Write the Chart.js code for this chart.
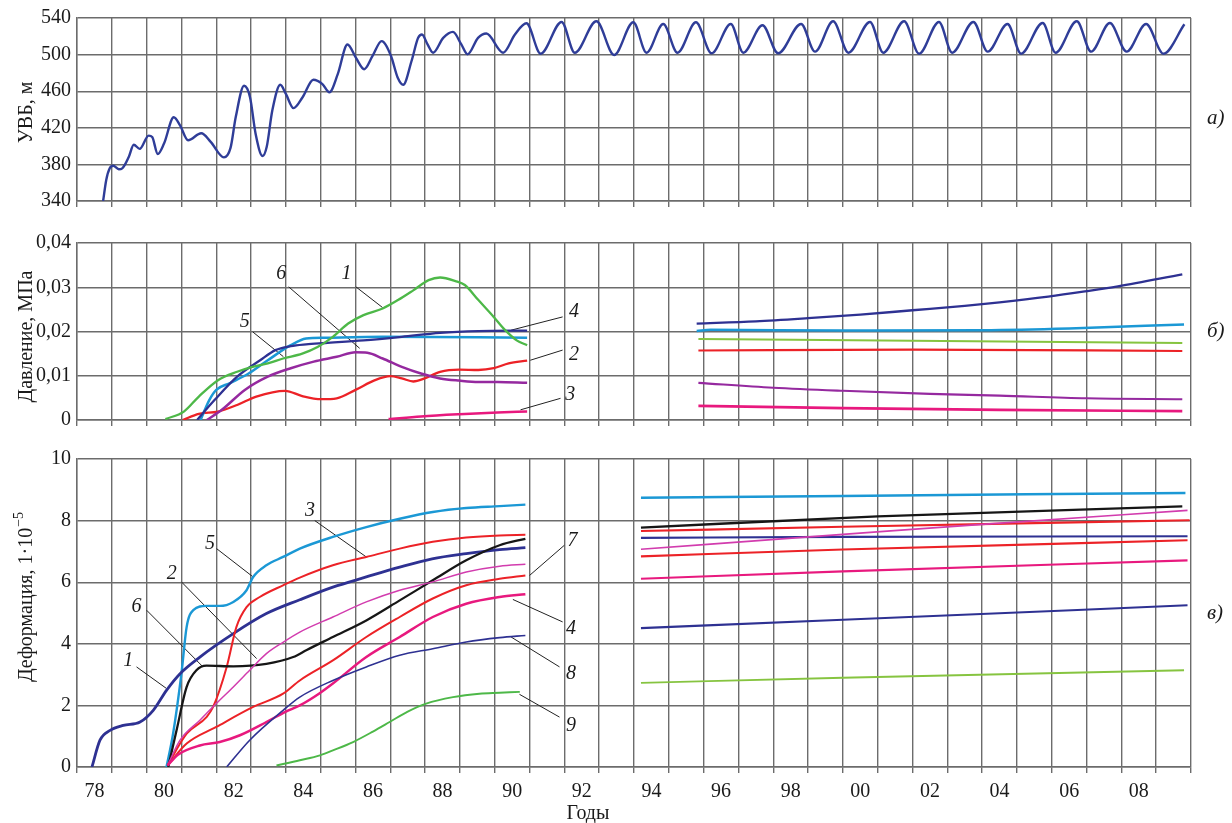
<!DOCTYPE html>
<html>
<head>
<meta charset="utf-8">
<script src="https://cdn.jsdelivr.net/npm/chart.js@4.4.1/dist/chart.umd.min.js"></script>
<style>
  html, body { margin: 0; padding: 0; background: #fff; }
  #wrap { position: relative; width: 1232px; height: 823px; overflow: hidden; background: #fff; }
  .panel { position: absolute; left: 0; width: 1232px; }
  canvas { display: block; }
</style>
</head>
<body>
<div id="wrap">
  <div class="panel" style="top:0;height:220px"><canvas id="levelChart"></canvas></div>
  <div class="panel" style="top:220px;height:220px"><canvas id="pressureChart"></canvas></div>
  <div class="panel" style="top:440px;height:383px"><canvas id="strainChart"></canvas></div>
</div>
<script>
// ---- axis ticks ----
const yearTicks = [1978, 1980, 1982, 1984, 1986, 1988, 1990, 1992, 1994, 1996, 1998, 2000, 2002, 2004, 2006, 2008];
const levelTicks = [340, 380, 420, 460, 500, 540];
const pressureTicks = [0, 0.01, 0.02, 0.03, 0.04];
const strainTicks = [0, 2, 4, 6, 8, 10];

// ---- а) reservoir water level, m ----
const reservoirLevel = [
  [1978.75,340],[1978.84,363],[1978.94,375.7],[1979.04,378.6],[1979.2,374.7],[1979.3,375.7],[1979.49,388.4],
  [1979.63,401.5],[1979.8,397],[1980.06,411.5],[1980.16,410],[1980.32,391.3],[1980.5,402.8],[1980.78,431.5],
  [1980.96,422.7],[1981.19,406.4],[1981.57,414],[1981.84,404.6],[1982.22,387.7],[1982.41,398],[1982.56,431.7],
  [1982.8,466],[1982.97,453.4],[1983.13,413.6],[1983.33,389.1],[1983.45,399.2],[1983.61,438.9],[1983.84,467],
  [1984.0,457],[1984.22,441.5],[1984.48,453.4],[1984.79,472.5],[1985.05,467.8],[1985.25,458.8],[1985.49,478.6],
  [1985.77,511],[1986.01,496.7],[1986.25,484],[1986.49,498.5],[1986.75,514.7],[1987.02,498.5],[1987.21,475],
  [1987.37,467],[1987.61,493],[1987.8,518.3],[1987.91,522],[1988.07,511.1],[1988.23,502.1],[1988.52,518.3],
  [1988.8,524.8],[1989.04,511.1],[1989.22,500.3],[1989.52,518.3],[1989.76,523],[1990.24,502.1],[1990.58,522],
  [1990.91,534.2],[1991.32,501],[1991.92,535.7],[1992.3,502],[1992.92,536.4],[1993.43,499.6],[1993.98,535.3],
  [1994.36,502.1],[1994.84,533.5],[1995.25,502.1],[1995.78,535.3],[1996.23,501.4],[1996.78,533.5],[1997.14,502.1],
  [1997.69,532.1],[1998.14,501.4],[1998.8,533.5],[1999.2,503.2],[1999.72,536.4],[2000.16,502.1],[2000.78,535.7],
  [2001.16,502.1],[2001.76,536.4],[2002.19,501],[2002.76,535.7],[2003.14,502.1],[2003.75,535.7],[2004.16,503.2],
  [2004.73,533.5],[2005.12,501],[2005.74,534.6],[2006.11,502.1],[2006.72,536.4],[2007.13,503.2],[2007.67,534.6],
  [2008.15,503.2],[2008.71,533.5],[2009.21,501],[2009.81,533.1]
];

// ---- б) pressure, MPa (gauges 1–6) ----
const pressure1 = [[1980.54,0.0002],[1981.07,0.0019],[1981.5,0.0053],[1982.05,0.0090],[1982.6,0.0109],[1983.04,0.0120],
  [1983.48,0.0128],[1983.92,0.0139],[1984.47,0.0150],[1984.91,0.0165],[1985.35,0.0188],[1985.79,0.0218],[1986.23,0.0237],
  [1986.78,0.0252],[1987.22,0.0271],[1987.66,0.0293],[1988.1,0.0316],[1988.43,0.0322],[1988.87,0.0314],[1989.14,0.0305],
  [1989.53,0.0271],[1989.97,0.0233],[1990.3,0.0203],[1990.63,0.0180],[1990.93,0.0169]];
const pressure2 = [[1981.04,0],[1981.5,0.0014],[1982.05,0.0019],[1982.6,0.0034],[1983.15,0.0053],[1983.98,0.0066],
  [1984.47,0.0054],[1985.02,0.0047],[1985.46,0.0049],[1986.0,0.0068],[1986.56,0.0090],[1987.0,0.0099],[1987.33,0.0094],
  [1987.66,0.0087],[1987.99,0.0094],[1988.43,0.0109],[1988.98,0.0114],[1989.53,0.0113],[1989.97,0.0117],[1990.4,0.0128],
  [1990.93,0.0134]];
const pressure3 = [[1986.95,0.0002],[1987.88,0.0008],[1988.98,0.0013],[1990.08,0.0017],[1990.93,0.0019]];
const pressure4 = [[1981.45,0],[1981.95,0.0045],[1982.6,0.0098],[1983.26,0.0135],[1983.7,0.0158],[1984.14,0.0167],
  [1984.58,0.0171],[1985.13,0.0174],[1986.23,0.0180],[1987.33,0.0188],[1988.43,0.0197],[1989.53,0.0201],[1990.93,0.0202]];
const pressure5 = [[1981.55,0],[1981.8,0.0045],[1982.0,0.0068],[1982.38,0.0083],[1982.93,0.0105],[1983.48,0.0135],
  [1984.14,0.0169],[1984.58,0.0184],[1985.13,0.0186],[1986.78,0.0188],[1990.93,0.0186]];
const pressure6 = [[1981.73,0],[1982.16,0.0023],[1982.82,0.0068],[1983.48,0.0098],[1984.14,0.0117],[1984.8,0.0132],
  [1985.46,0.0143],[1986.0,0.0153],[1986.34,0.0152],[1986.78,0.0139],[1987.33,0.0120],[1987.88,0.0105],[1988.43,0.0094],
  [1988.98,0.0089],[1989.53,0.0086],[1990.08,0.0086],[1990.93,0.0084]];
const pressure1Late = [[1995.85,0.0183],[2002,0.0179],[2009.75,0.0174]];
const pressure2Late = [[1995.85,0.0157],[2002,0.0159],[2009.75,0.0156]];
const pressure3Late = [[1995.85,0.0032],[2000,0.0027],[2004.5,0.0023],[2009.75,0.0020]];
const pressure4Late = [[1995.8,0.0218],[1997.5,0.0223],[1999.0,0.0230],[2000.5,0.0238],[2002.0,0.0248],[2003.5,0.0258],
  [2004.5,0.0266],[2005.9,0.0279],[2006.9,0.0290],[2007.9,0.0302],[2009.75,0.0329]];
const pressure5Late = [[1995.8,0.0201],[1996.2,0.0204],[2000,0.0202],[2004,0.0203],[2006.5,0.0207],[2009.8,0.0216]];
const pressure6Late = [[1995.85,0.0084],[1998,0.0073],[2000,0.0066],[2002.5,0.0059],[2004.5,0.0055],[2007,0.0049],[2009.75,0.0047]];

// ---- в) strain, 1e-5 (gauges 1–9) ----
const strain1 = [[1978.43,0],[1978.66,0.87],[1978.95,1.19],[1979.33,1.35],[1979.81,1.46],[1980.19,1.84],[1980.57,2.49],
  [1980.96,3.03],[1981.53,3.57],[1982.49,4.33],[1983.44,4.98],[1984.4,5.43],[1985.35,5.84],[1986.31,6.17],[1987.27,6.49],
  [1988.2,6.76],[1989.18,6.93],[1990.14,7.06],[1990.88,7.12]];
const strain2 = [[1980.6,0.05],[1980.96,0.87],[1981.53,1.52],[1982.0,2.06],[1982.49,2.6],[1982.96,3.14],[1983.44,3.68],
  [1983.92,4.05],[1984.4,4.38],[1985.35,4.87],[1986.31,5.36],[1987.27,5.74],[1988.22,6.01],[1989.18,6.33],[1990.14,6.52],
  [1990.88,6.58]];
const strain3 = [[1980.6,0.05],[1981.15,1.08],[1981.72,1.62],[1981.91,1.95],[1982.3,3.25],[1982.58,4.55],[1982.87,5.19],
  [1983.25,5.52],[1983.92,5.9],[1984.4,6.15],[1985.35,6.55],[1986.31,6.82],[1987.27,7.09],[1988.22,7.31],[1989.18,7.45],
  [1990.14,7.52],[1990.88,7.54]];
const strain4 = [[1980.6,0.05],[1980.9,0.4],[1981.53,0.7],[1982.1,0.81],[1982.68,1.03],[1983.44,1.46],[1984.0,1.8],
  [1984.4,2.0],[1984.95,2.38],[1985.35,2.71],[1986.31,3.57],[1987.27,4.22],[1988.22,4.87],[1989.18,5.3],[1990.14,5.52],
  [1990.88,5.61]];
const strain5 = [[1980.57,0],[1980.76,1.08],[1981.0,3.03],[1981.15,4.55],[1981.34,5.09],[1981.72,5.23],[1982.1,5.23],
  [1982.49,5.36],[1982.87,5.74],[1983.06,6.17],[1983.44,6.55],[1983.92,6.82],[1984.4,7.09],[1985.35,7.47],[1986.31,7.79],
  [1987.27,8.06],[1988.22,8.28],[1989.18,8.41],[1990.14,8.47],[1990.88,8.52]];
const strain6 = [[1980.62,0],[1980.86,1.19],[1981.15,2.6],[1981.43,3.14],[1981.72,3.29],[1982.49,3.27],[1983.44,3.35],
  [1984.21,3.57],[1984.6,3.8],[1985.35,4.22],[1986.31,4.76],[1987.27,5.41],[1988.22,6.06],[1989.18,6.71],[1990.14,7.2],
  [1990.88,7.41]];
const strain7 = [[1980.6,0.05],[1981.15,0.76],[1982.0,1.3],[1983.06,1.95],[1983.92,2.38],[1984.4,2.81],[1985.35,3.46],
  [1986.31,4.22],[1987.27,4.87],[1988.22,5.47],[1989.18,5.9],[1990.14,6.11],[1990.88,6.22]];
const strain8 = [[1982.3,0],[1982.96,0.87],[1983.92,1.84],[1984.4,2.27],[1985.35,2.81],[1986.31,3.25],[1987.27,3.63],
  [1988.22,3.84],[1989.18,4.06],[1990.14,4.2],[1990.88,4.27]];
const strain9 = [[1983.73,0.05],[1984.4,0.22],[1984.98,0.38],[1985.35,0.54],[1985.93,0.81],[1986.5,1.15],[1986.98,1.46],
  [1987.5,1.8],[1988.03,2.06],[1988.8,2.27],[1989.56,2.38],[1990.14,2.41],[1990.72,2.44]];
const strain1Late = [[1994.2,7.44],[2000,7.47],[2009.9,7.49]];
const strain2Late = [[1994.2,7.07],[2000,7.55],[2004,7.88],[2009.9,8.33]];
const strain3Late = [[1994.2,7.66],[2000,7.8],[2009.96,8.01]];
const strain4Late = [[1994.2,6.11],[2000,6.35],[2009.9,6.71]];
const strain5Late = [[1994.2,8.74],[2000,8.8],[2009.84,8.9]];
const strain6Late = [[1994.2,7.77],[2001,8.14],[2009.75,8.46]];
const strain7Late = [[1994.2,6.84],[2000,7.06],[2009.9,7.36]];
const strain8Late = [[1994.2,4.51],[2000,4.78],[2009.9,5.25]];
const strain9Late = [[1994.2,2.73],[2000,2.9],[2009.8,3.14]];

// ---- curve number callouts: [label year, label value, text] and leader [x1, y1, x2, y2] ----
const pressureLabels = [[1983.87,0.0331,'6'],[1985.74,0.0331,'1'],[1982.82,0.0222,'5'],[1992.28,0.0245,'4'],[1992.28,0.0147,'2'],[1992.17,0.0056,'3']];
const pressureLeaders = [[1984.08,0.0301,1986.12,0.0162],[1986.01,0.0301,1986.78,0.0254],[1983.05,0.0199,1983.93,0.0143],
  [1991.95,0.0233,1990.47,0.0203],[1991.95,0.0158,1991.02,0.0135],[1991.89,0.0049,1990.74,0.0023]];
const strainLabels = [[1979.47,3.46,'1'],[1979.71,5.19,'6'],[1980.72,6.28,'2'],[1981.82,7.25,'5'],[1984.69,8.33,'3'],
  [1992.23,7.36,'7'],[1992.19,4.49,'4'],[1992.19,3.03,'8'],[1992.19,1.35,'9']];
const strainLeaders = [[1979.71,3.25,1980.57,2.55],[1980.0,5.09,1981.62,3.25],[1981.0,6.01,1983.16,3.52],[1982.01,7.09,1983.06,6.17],
  [1984.83,8.0,1986.31,6.82],[1992.0,7.2,1991.0,6.22],[1991.95,4.71,1990.52,5.44],[1991.86,3.25,1990.47,4.22],[1991.86,1.62,1990.71,2.36]];

// ---- styling ----
const FONT = '"Liberation Serif", "Times New Roman", serif';
const GRID = '#6c6c6c';
const INK = '#1a1a1a';
const C = {
  navy: '#2e3192', cyan: '#1b98d5', green: '#4db848', greenLt: '#86c440', red: '#ec2227',
  pink: '#e8197e', purple: '#95299f', orchid: '#d23cae', black: '#161616', level: '#2f3d98'
};

Chart.defaults.font.family = FONT;
Chart.defaults.animation = false;

function curve(points, color, width) {
  return {
    data: points.map(([x, y]) => ({ x, y })),
    borderColor: color, borderWidth: width, pointRadius: 0,
    cubicInterpolationMode: 'monotone', fill: false
  };
}
function leader([x1, y1, x2, y2]) {
  return { data: [{ x: x1, y: y1 }, { x: x2, y: y2 }], borderColor: '#222', borderWidth: 1, pointRadius: 0, tension: 0 };
}

const onYearLine = ctx => ctx.tick && Number.isInteger(ctx.tick.value);

function xAxis(showLabels, height) {
  return {
    type: 'linear', min: 1978, max: 2010,
    afterBuildTicks(scale) {
      const t = [];
      for (let v = 1978; v <= 2010; v += 0.5) t.push({ value: v });
      scale.ticks = t;
    },
    afterFit(scale) { scale.height = height; },
    grid: {
      color: ctx => onYearLine(ctx) ? GRID : 'rgba(0,0,0,0)',
      tickColor: ctx => onYearLine(ctx) ? GRID : 'rgba(0,0,0,0)',
      lineWidth: 1.4, tickLength: 6, drawTicks: true
    },
    border: { color: GRID, width: 1.4 },
    ticks: {
      display: showLabels, autoSkip: false, maxRotation: 0, minRotation: 0, padding: 7,
      color: INK, font: { family: FONT, size: 20 },
      callback: v => {
        const y0 = Math.floor(v);
        return (v - y0 === 0.5 && yearTicks.includes(y0)) ? String(y0 % 100).padStart(2, '0') : '';
      }
    }
  };
}

function yAxis(min, max, ticks, fmt) {
  return {
    type: 'linear', min, max,
    afterBuildTicks(scale) { scale.ticks = ticks.map(v => ({ value: v })); },
    afterFit(scale) { scale.width = 77; },
    grid: { color: GRID, lineWidth: 1.4, drawTicks: false },
    border: { color: GRID, width: 1.4 },
    ticks: { padding: 6, color: INK, font: { family: FONT, size: 20 }, callback: fmt }
  };
}

// Draws curve numbers, panel letter, rotated axis title and the year caption
function textLayer(cfg) {
  return {
    id: 'textLayer',
    afterDraw(chart) {
      const { ctx, chartArea: a, scales: { x, y } } = chart;
      const midY = (a.top + a.bottom) / 2;
      ctx.save();
      ctx.fillStyle = INK;
      ctx.textBaseline = 'middle';
      ctx.font = `italic 20px ${FONT}`;
      ctx.textAlign = 'center';
      (cfg.labels || []).forEach(([xv, yv, t]) => ctx.fillText(t, x.getPixelForValue(xv), y.getPixelForValue(yv)));
      ctx.textAlign = 'left';
      ctx.font = `italic 21px ${FONT}`;
      ctx.fillText(cfg.letter, a.right + 16, midY + cfg.letterShift);
      if (cfg.caption) {
        ctx.font = `20px ${FONT}`;
        ctx.textAlign = 'center';
        ctx.fillText(cfg.caption, a.left + 511, a.bottom + 47);
      }
      ctx.translate(27, midY + cfg.titleShift);
      ctx.rotate(-Math.PI / 2);
      ctx.font = `20px ${FONT}`;
      const wMain = ctx.measureText(cfg.title).width;
      let wSup = 0;
      if (cfg.sup) { ctx.font = `14px ${FONT}`; wSup = ctx.measureText(cfg.sup).width + 1; }
      const start = -(wMain + wSup) / 2;
      ctx.textAlign = 'left';
      ctx.font = `20px ${FONT}`;
      ctx.fillText(cfg.title, start, 0);
      if (cfg.sup) { ctx.font = `14px ${FONT}`; ctx.fillText(cfg.sup, start + wMain + 1, -8); }
      ctx.restore();
    }
  };
}

function build(id, datasets, xA, yA, padTop, text) {
  return new Chart(document.getElementById(id), {
    type: 'line',
    data: { datasets },
    options: {
      responsive: true, maintainAspectRatio: false,
      layout: { padding: { top: padTop, right: 41, left: 0, bottom: 0 } },
      plugins: { legend: { display: false }, tooltip: { enabled: false } },
      events: [],
      scales: { x: xA, y: yA }
    },
    plugins: [textLayer(text)]
  });
}

// а) water level
build('levelChart',
  [curve(reservoirLevel, C.level, 2.4)],
  xAxis(false, 19),
  yAxis(340, 540, levelTicks, v => String(v)),
  17,
  { letter: 'а)', letterShift: 9, title: 'УВБ, м', titleShift: 3 });

// б) pressure
build('pressureChart',
  [
    curve(pressure1, C.green, 2.3), curve(pressure4, C.navy, 2.3), curve(pressure5, C.cyan, 2.5),
    curve(pressure6, C.purple, 2.5), curve(pressure2, C.red, 2.3), curve(pressure3, C.pink, 2.5),
    curve(pressure4Late, C.navy, 2.3), curve(pressure5Late, C.cyan, 2.5), curve(pressure1Late, C.greenLt, 2.1),
    curve(pressure2Late, C.red, 2.1), curve(pressure6Late, C.purple, 2.1), curve(pressure3Late, C.pink, 2.7),
    ...pressureLeaders.map(leader)
  ],
  xAxis(false, 20),
  yAxis(0, 0.04, pressureTicks, v => v === 0 ? '0' : v.toFixed(2).replace('.', ',')),
  23,
  { letter: 'б)', letterShift: 0, title: 'Давление, МПа', titleShift: 5, labels: pressureLabels });

// в) strain
build('strainChart',
  [
    curve(strain9, C.green, 1.9), curve(strain8, C.navy, 1.6), curve(strain4, C.pink, 2.5),
    curve(strain7, C.red, 2), curve(strain2, C.orchid, 1.5), curve(strain6, C.black, 2.3),
    curve(strain3, C.red, 2), curve(strain1, C.navy, 2.8), curve(strain5, C.cyan, 2.4),
    curve(strain9Late, C.greenLt, 1.9), curve(strain8Late, C.navy, 2.1), curve(strain4Late, C.pink, 2.1),
    curve(strain7Late, C.red, 2.1), curve(strain2Late, C.orchid, 1.7), curve(strain1Late, C.navy, 2.1),
    curve(strain3Late, C.red, 2.1), curve(strain6Late, C.black, 2.3), curve(strain5Late, C.cyan, 2.5),
    ...strainLeaders.map(leader)
  ],
  xAxis(true, 56),
  yAxis(0, 10, strainTicks, v => String(v)),
  19,
  { letter: 'в)', letterShift: 0, title: 'Деформация, 1·10', sup: '−5', titleShift: -16, labels: strainLabels, caption: 'Годы' });
</script>
</body>
</html>
